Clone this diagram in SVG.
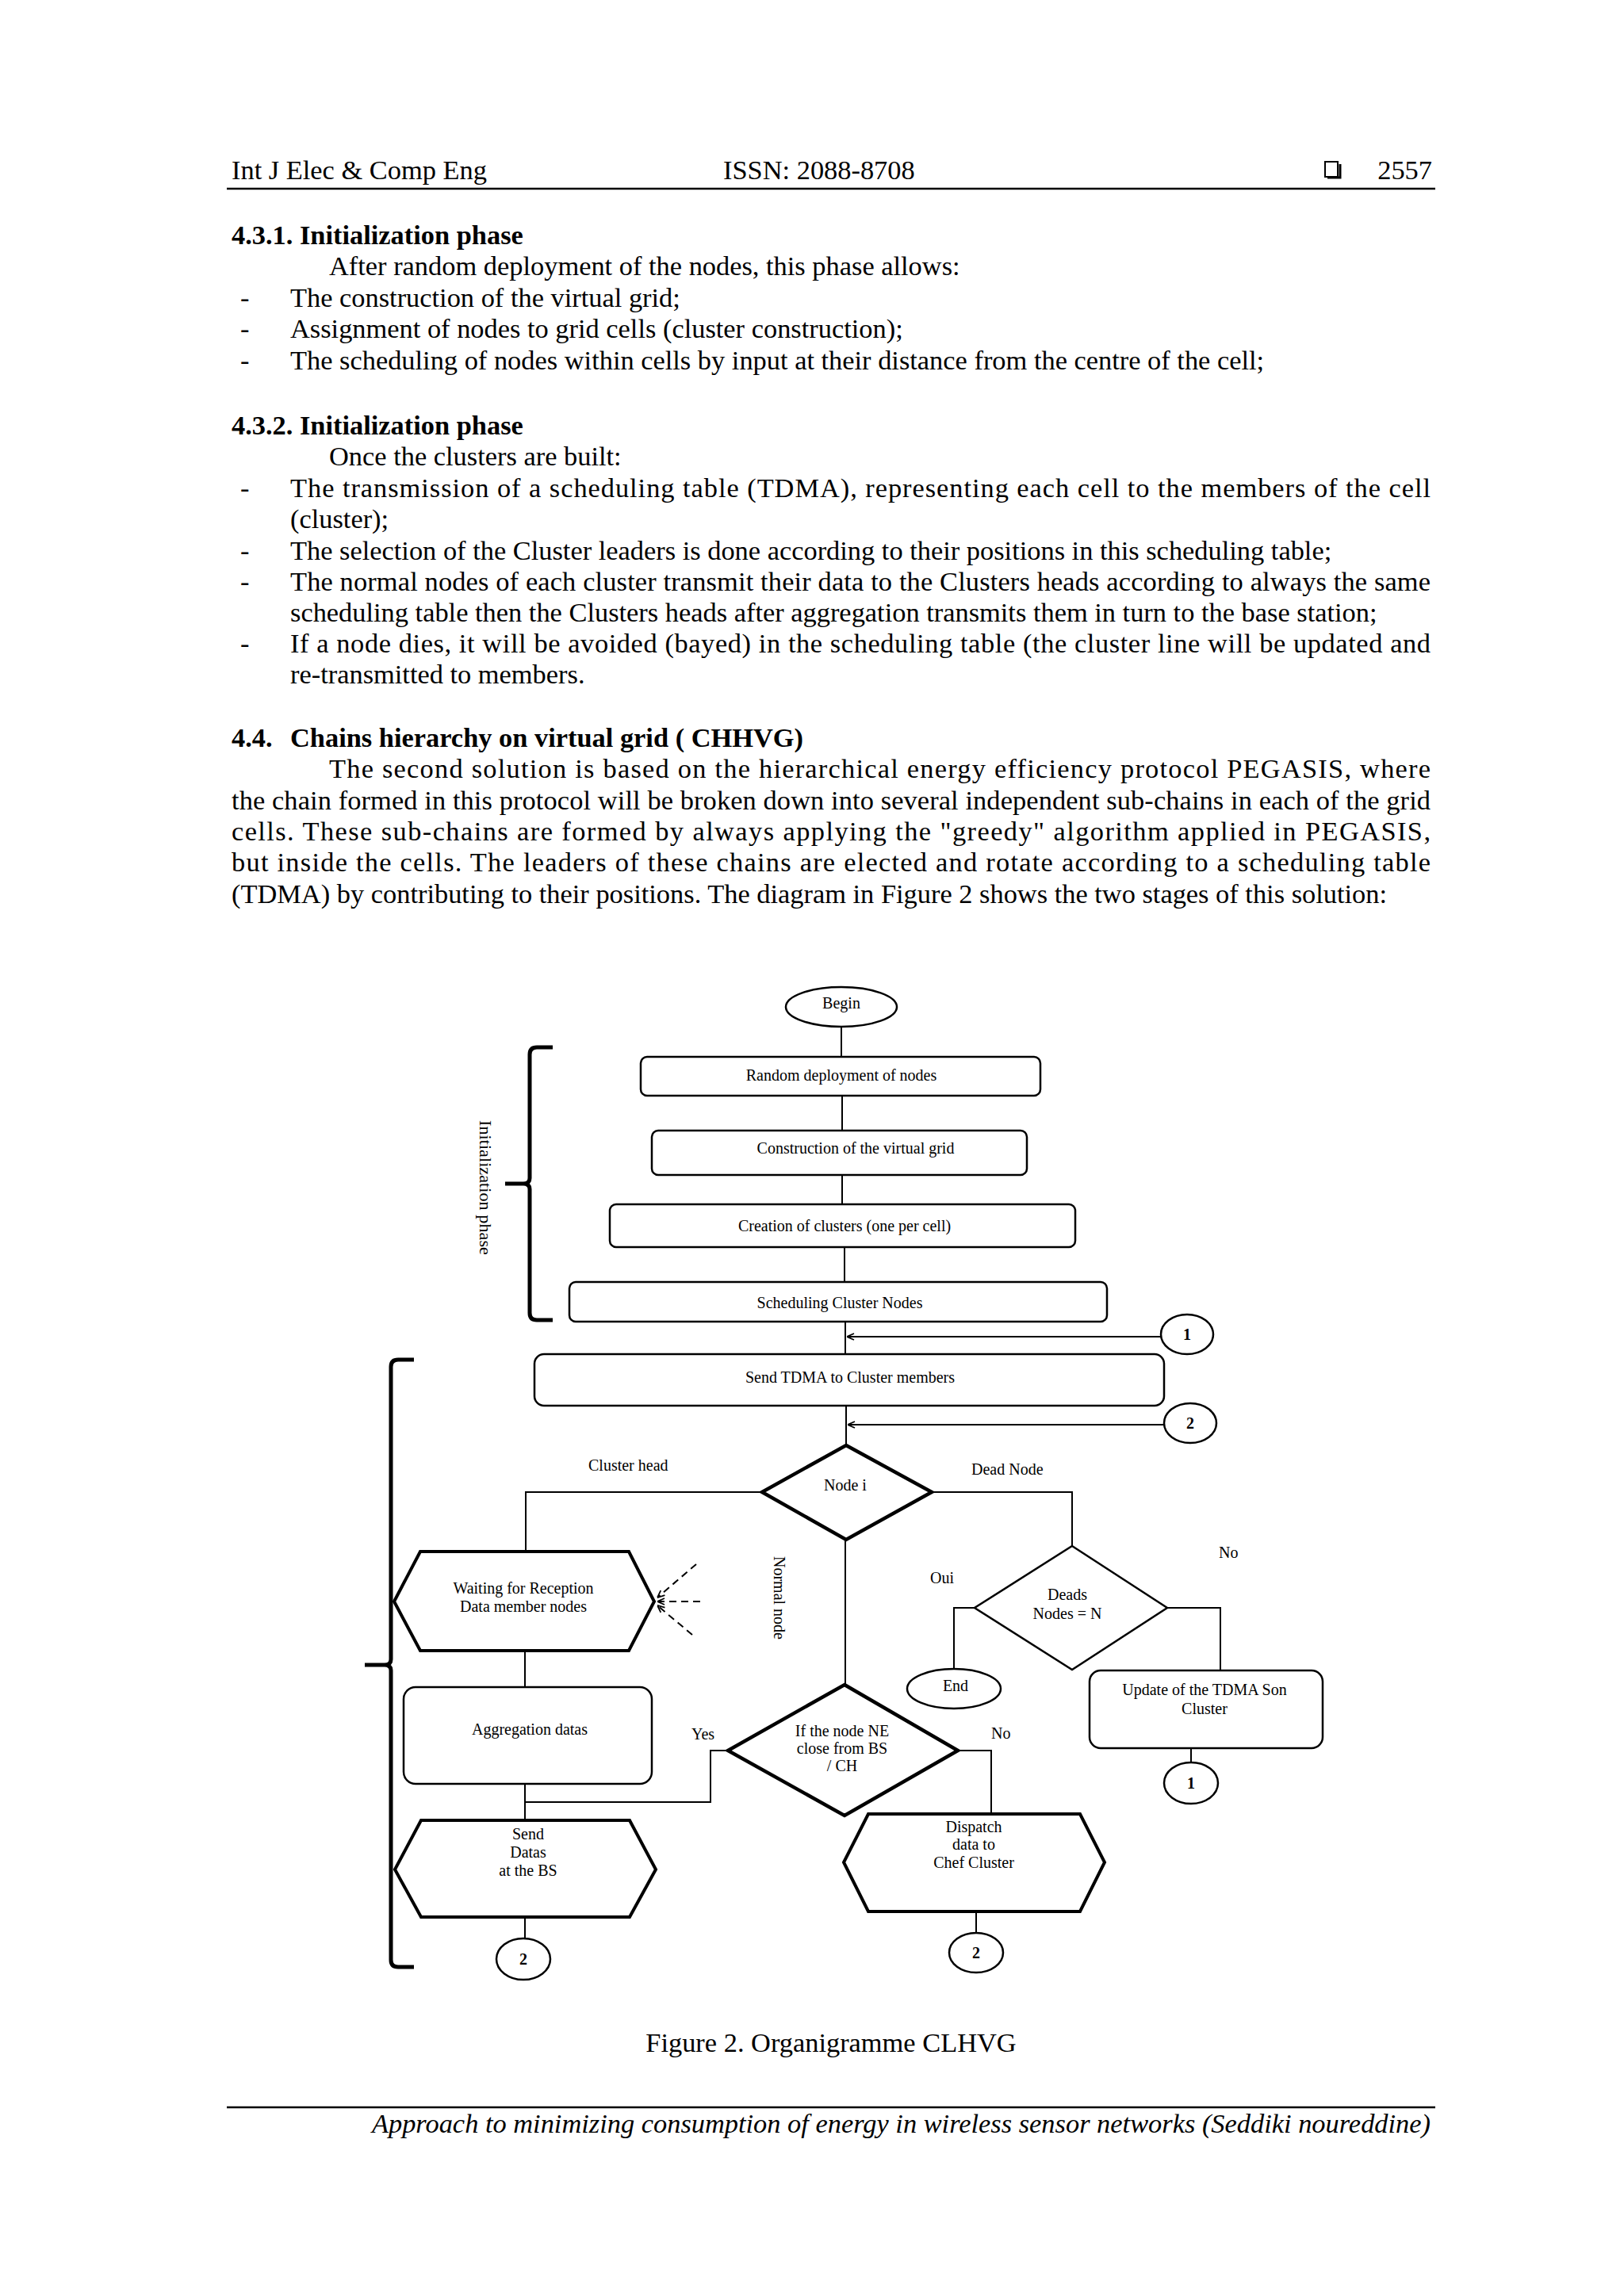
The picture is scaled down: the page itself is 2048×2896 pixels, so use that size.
<svg xmlns="http://www.w3.org/2000/svg" width="2048" height="2896" viewBox="0 0 2048 2896">
<defs>
<style>
.body{font-family:"Liberation Serif","Times New Roman",serif;font-size:34.4px;fill:#000}
.b{font-weight:bold}
.it{font-style:italic}
.d{font-family:"Liberation Serif","Times New Roman",serif;font-size:20px;fill:#000;text-anchor:middle}
.ds{font-family:"Liberation Serif","Times New Roman",serif;font-size:20px;fill:#000}
.box{fill:#fff;stroke:#000;stroke-width:2.5}
.thick{fill:#fff;stroke:#000;stroke-width:4.5;stroke-linejoin:miter}
.hex{fill:#fff;stroke:#000;stroke-width:4}
.thin{fill:#fff;stroke:#000;stroke-width:2.5}
.con{fill:none;stroke:#000;stroke-width:2}
.brk{fill:none;stroke:#000;stroke-width:5}
.rule{stroke:#000;stroke-width:2.5}
</style>
<marker id="open" viewBox="0 0 10 10" refX="10" refY="5" markerWidth="10" markerHeight="10" markerUnits="userSpaceOnUse" orient="auto">
<path d="M1,1 L10,5 L1,9" fill="none" stroke="#000" stroke-width="1.8"/>
</marker>
</defs>
<rect width="2048" height="2896" fill="#fff"/>

<g id="page-text" class="body">
<text x="292" y="226">Int J Elec &amp; Comp Eng</text>
<text x="912" y="226">ISSN: 2088-8708</text>
<text x="1806" y="226" text-anchor="end">2557</text>
<text x="292" y="308" class="b">4.3.1. Initialization phase</text>
<text x="415" y="347">After random deployment of the nodes, this phase allows:</text>
<text x="303" y="387">-</text><text x="366" y="387">The construction of the virtual grid;</text>
<text x="303" y="426">-</text><text x="366" y="426">Assignment of nodes to grid cells (cluster construction);</text>
<text x="303" y="466">-</text><text x="366" y="466">The scheduling of nodes within cells by input at their distance from the centre of the cell;</text>
<text x="292" y="548" class="b">4.3.2. Initialization phase</text>
<text x="415" y="587">Once the clusters are built:</text>
<text x="303" y="627">-</text><text x="366" y="627" textLength="1438" lengthAdjust="spacing">The transmission of a scheduling table (TDMA), representing each cell to the members of the cell</text>
<text x="366" y="666">(cluster);</text>
<text x="303" y="706">-</text><text x="366" y="706">The selection of the Cluster leaders is done according to their positions in this scheduling table;</text>
<text x="303" y="745">-</text><text x="366" y="745" textLength="1438" lengthAdjust="spacing">The normal nodes of each cluster transmit their data to the Clusters heads according to always the same</text>
<text x="366" y="784">scheduling table then the Clusters heads after aggregation transmits them in turn to the base station;</text>
<text x="303" y="823">-</text><text x="366" y="823" textLength="1438" lengthAdjust="spacing">If a node dies, it will be avoided (bayed) in the scheduling table (the cluster line will be updated and</text>
<text x="366" y="862">re-transmitted to members.</text>
<text x="292" y="942" class="b">4.4.</text><text x="366" y="942" class="b">Chains hierarchy on virtual grid ( CHHVG)</text>
<text x="415" y="981" textLength="1389" lengthAdjust="spacing">The second solution is based on the hierarchical energy efficiency protocol PEGASIS, where</text>
<text x="292" y="1021" textLength="1512" lengthAdjust="spacing">the chain formed in this protocol will be broken down into several independent sub-chains in each of the grid</text>
<text x="292" y="1060" textLength="1512" lengthAdjust="spacing">cells. These sub-chains are formed by always applying the "greedy" algorithm applied in PEGASIS,</text>
<text x="292" y="1099" textLength="1512" lengthAdjust="spacing">but inside the cells. The leaders of these chains are elected and rotate according to a scheduling table</text>
<text x="292" y="1139">(TDMA) by contributing to their positions. The diagram in Figure 2 shows the two stages of this solution:</text>
<text x="1048" y="2588" text-anchor="middle">Figure 2. Organigramme CLHVG</text>
<text x="1804" y="2690" text-anchor="end" class="it">Approach to minimizing consumption of energy in wireless sensor networks (Seddiki noureddine)</text>
</g>
<g id="page-rules">
<line x1="286" y1="238" x2="1810" y2="238" class="rule"/>
<line x1="286" y1="2658" x2="1810" y2="2658" class="rule"/>
<rect x="1671" y="204" width="16" height="19" fill="none" stroke="#000" stroke-width="2"/>
<path d="M1674 224 H1690 V207" fill="none" stroke="#000" stroke-width="3"/>
</g>

<g id="connectors">
<path class="con" d="M1061 1295 V1333"/>
<path class="con" d="M1062 1382 V1426"/>
<path class="con" d="M1062 1482 V1519"/>
<path class="con" d="M1065 1573 V1617"/>
<path class="con" d="M1066 1667 V1708"/>
<path class="con" d="M1464 1686 H1068" marker-end="url(#open)"/>
<path class="con" d="M1067 1773 V1823"/>
<path class="con" d="M1468 1797 H1069" marker-end="url(#open)"/>
<path class="con" d="M961 1882 H663 V1957"/>
<path class="con" d="M1175 1882 H1352 V1950"/>
<path class="con" d="M1066 1942 V2125"/>
<path class="con" d="M662 2082 V2128"/>
<path class="con" d="M662 2250 V2296"/>
<path class="con" d="M918 2208 H896 V2273 H662"/>
<path class="con" d="M1208 2208 H1250 V2288"/>
<path class="con" d="M662 2418 V2445"/>
<path class="con" d="M1231 2411 V2438"/>
<path class="con" d="M1229 2028 H1203 V2105"/>
<path class="con" d="M1472 2028 H1539 V2107"/>
<path class="con" d="M1502 2205 V2223"/>
<path class="con" d="M878 1973 L829 2015" stroke-dasharray="9 6" marker-end="url(#open)"/>
<path class="con" d="M883 2020 L829 2020" stroke-dasharray="9 6" marker-end="url(#open)"/>
<path class="con" d="M873 2062 L829 2025" stroke-dasharray="9 6" marker-end="url(#open)"/>
</g>

<g id="brackets">
<path class="brk" d="M697 1321 H677 Q668 1321 668 1330 V1486 Q668 1493 660 1493 H637 M660 1493 Q668 1493 668 1500 V1656 Q668 1665 677 1665 H697"/>
<path class="brk" d="M522 1715 H502 Q493 1715 493 1724 V2093 Q493 2100 485 2100 H460 M485 2100 Q493 2100 493 2107 V2472 Q493 2481 502 2481 H522"/>
<text class="ds" font-size="22" transform="translate(605,1413) rotate(90)" textLength="170" lengthAdjust="spacingAndGlyphs">Initialization phase</text>
</g>

<g id="n-begin"><ellipse cx="1061" cy="1270" rx="70" ry="25" class="thin"/><text class="d" x="1061" y="1272">Begin</text></g>
<g id="n-random"><rect x="808" y="1333" width="504" height="49" rx="8" class="box"/><text class="d" x="1061" y="1363">Random deployment of nodes</text></g>
<g id="n-grid"><rect x="822" y="1426" width="473" height="56" rx="8" class="box"/><text class="d" x="1079" y="1455">Construction of the virtual grid</text></g>
<g id="n-clusters"><rect x="769" y="1519" width="587" height="54" rx="8" class="box"/><text class="d" x="1065" y="1553">Creation of clusters (one per cell)</text></g>
<g id="n-sched"><rect x="718" y="1617" width="678" height="50" rx="8" class="box"/><text class="d" x="1059" y="1650">Scheduling Cluster Nodes</text></g>
<g id="c-1a"><ellipse cx="1497" cy="1683" rx="33" ry="25" class="thin"/><text class="d b" x="1497" y="1690">1</text></g>
<g id="n-tdma"><rect x="674" y="1708" width="794" height="65" rx="12" class="box"/><text class="d" x="1072" y="1744">Send TDMA to Cluster members</text></g>
<g id="c-2a"><ellipse cx="1501" cy="1795" rx="33" ry="25" class="thin"/><text class="d b" x="1501" y="1802">2</text></g>
<g id="n-nodei"><polygon points="1067,1823 1175,1882 1067,1942 961,1882" class="thick"/><text class="d" x="1066" y="1880">Node i</text></g>
<g id="labels">
<text class="ds" x="742" y="1855">Cluster head</text>
<text class="ds" x="1225" y="1860">Dead Node</text>
<text class="ds" transform="translate(976,1963) rotate(90)">Normal node</text>
<text class="ds" x="872" y="2194">Yes</text>
<text class="ds" x="1250" y="2193">No</text>
<text class="ds" x="1173" y="1997">Oui</text>
<text class="ds" x="1537" y="1965">No</text>
</g>
<g id="n-waiting"><polygon points="530,1957 793,1957 825,2020 793,2082 530,2082 497,2020" class="hex"/><text class="d" font-size="22" x="660" y="2010">Waiting for Reception</text><text class="d" font-size="22" x="660" y="2033">Data member nodes</text></g>
<g id="n-aggr"><rect x="509" y="2128" width="313" height="122" rx="15" class="box"/><text class="d" font-size="22" x="668" y="2188">Aggregation datas</text></g>
<g id="n-send"><polygon points="531,2296 794,2296 827,2358 794,2418 531,2418 498,2358" class="hex"/><text class="d" x="666" y="2320">Send</text><text class="d" x="666" y="2343">Datas</text><text class="d" x="666" y="2366">at the BS</text></g>
<g id="c-2b"><ellipse cx="660" cy="2471" rx="34" ry="26" class="thin"/><text class="d b" x="660" y="2478">2</text></g>
<g id="n-ifnode"><polygon points="1065,2125 1208,2208 1065,2290 918,2208" class="thick"/><text class="d" x="1062" y="2190">If the node NE</text><text class="d" x="1062" y="2212">close from BS</text><text class="d" x="1062" y="2234">/ CH</text></g>
<g id="n-dispatch"><polygon points="1095,2288 1362,2288 1393,2349 1362,2411 1095,2411 1064,2349" class="hex"/><text class="d" x="1228" y="2311">Dispatch</text><text class="d" x="1228" y="2333">data to</text><text class="d" x="1228" y="2356">Chef Cluster</text></g>
<g id="c-2c"><ellipse cx="1231" cy="2463" rx="34" ry="25" class="thin"/><text class="d b" x="1231" y="2470">2</text></g>
<g id="n-deads"><polygon points="1352,1950 1472,2028 1352,2106 1229,2028" class="thin"/><text class="d" x="1346" y="2018">Deads</text><text class="d" x="1346" y="2042">Nodes = N</text></g>
<g id="n-end"><ellipse cx="1203" cy="2130" rx="59" ry="25" class="thin"/><text class="d" x="1205" y="2133">End</text></g>
<g id="n-update"><rect x="1374" y="2107" width="294" height="98" rx="14" class="box"/><text class="d" x="1519" y="2138">Update of the TDMA Son</text><text class="d" x="1519" y="2162">Cluster</text></g>
<g id="c-1b"><ellipse cx="1502" cy="2249" rx="34" ry="26" class="thin"/><text class="d b" x="1502" y="2256">1</text></g>
</svg>
